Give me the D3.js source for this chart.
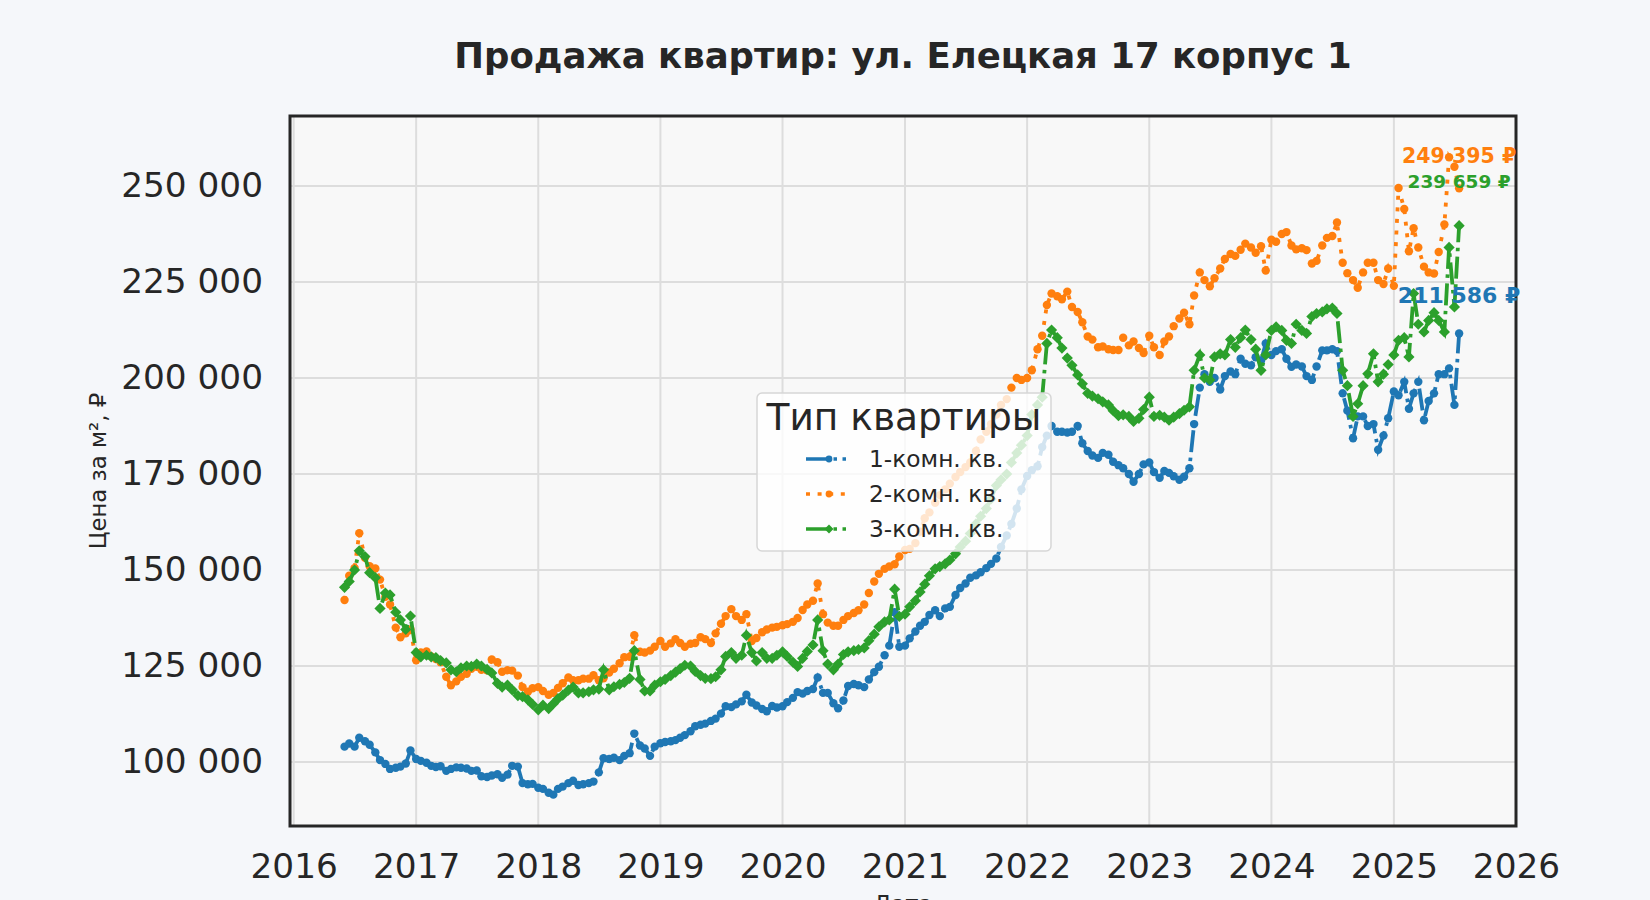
<!DOCTYPE html>
<html lang="ru">
	<head>
		<meta charset="utf-8">
		<title>Продажа квартир: ул. Елецкая 17 корпус 1</title>
		<script type="text/javascript" src="https://d3js.org/d3.v7.min.js"></script>
		<style type="text/css">
			body { margin: 0; background: #f5f7fa; }
			svg { display: block; font-family: "DejaVu Sans", sans-serif; }
		</style>
	</head>
	<body>
		<script type="text/javascript">

			// Price per m2, one value every half month (1st and 15th), from 2016-06-01
			var firstYear = 2016;
			var firstMonth = 5;

			var room1 = [
				104000,104800,104000,106300,105400,104500,102500,100500,99500,98200,98500,98800,99600,103000,100800,100300,
				99800,99000,98700,98900,97700,98200,98600,98500,98300,97700,97800,96300,96100,96500,96800,95900,
				96700,99000,98800,94500,94200,94300,93300,93000,92000,91500,93000,93600,94500,95100,94000,94200,
				94500,94900,97300,101000,100800,101100,100500,101600,102300,107400,104300,103500,101600,104000,104900,105200,
				105400,105700,106300,107000,108000,109300,109700,110000,110700,111300,112600,114500,114300,115000,115800,117500,
				115500,114700,113800,113200,114600,114200,114500,115600,116700,118200,117800,118500,119000,122000,118000,118000,
				115300,114000,116000,119800,120300,120000,119500,121500,123400,124800,127800,130300,139000,130000,130300,132200,
				134000,135500,136500,138300,139500,138000,140000,140400,143500,145300,146500,148000,148600,149400,150500,151600,
				153000,156000,159000,162000,166000,171000,174500,176000,177000,182000,185000,187500,186000,186000,185800,186000,
				187500,183000,181000,179800,179200,180500,180000,178200,177300,176500,175000,173000,175000,177500,178000,175500,
				174000,175800,175300,174400,173500,174300,176500,188000,197500,201000,199000,200000,197000,200500,201700,201000,
				205000,203700,203300,205400,204500,209000,206000,207000,207500,205000,202900,203500,203000,200500,199500,203000,
				207200,207200,207500,207000,196000,191500,184300,190000,190000,187500,188000,181300,185000,189500,196500,195500,
				199000,192000,196000,199000,189000,194000,196000,201000,201000,202500,193000,211586
			];

			var room2 = [
				142200,148500,150500,159600,153200,151000,150400,147500,143000,141000,135000,132500,133500,134500,126500,128500,
				128800,127500,126800,126000,122200,120000,121000,122200,123000,124300,124800,124000,123900,126700,126000,123500,
				123900,123800,122500,119500,118300,119200,119500,118500,117500,118000,119300,120500,122000,121300,121300,121700,
				121700,122600,121300,121800,123300,124300,125700,127300,127400,133000,128700,128500,129000,130000,131500,130000,
				130900,132000,131000,130000,130800,131000,132500,132000,131000,133500,136000,138000,139800,138000,137000,138500,
				131500,132300,133800,134500,135000,135200,135600,135900,136500,137500,139600,141000,142000,146500,138500,136300,
				135500,135500,137000,138000,138800,139500,141000,144000,147000,149000,150300,150900,151500,153500,155200,155500,
				157000,160000,163500,165000,167500,169500,171000,172500,174200,175500,176800,178000,181000,184000,186000,188000,
				190500,193000,194500,197500,200000,199500,200000,202000,207500,211000,219000,222000,221300,220500,222500,218500,
				217200,214500,210800,210000,208000,208200,207500,207300,207300,210500,208500,209500,207800,206500,211000,208000,
				206000,209500,210800,213500,215500,217000,214000,221500,227500,225500,223900,226000,228500,231000,232300,231800,
				233400,235000,234000,232600,234300,228000,236000,235500,237500,238000,234500,233500,233800,233300,229800,230500,
				234500,236500,237000,240500,230000,227300,225500,223500,227500,230000,230000,225500,224500,228500,224000,249500,
				244000,233000,239000,234000,229000,227500,227200,232800,240000,257500,255000,249395
			];

			var room3 = [
				145500,147000,150000,155000,153500,149300,148000,140000,144000,143500,139000,137000,134500,138000,128500,127400,
				127800,127400,127200,126400,125800,124000,123500,124500,125000,124900,125500,125000,124100,123200,120500,119500,
				120000,118800,117300,117000,116200,115000,113600,114800,113900,115200,116500,117400,118700,119500,118000,118000,
				118300,118800,119000,124000,118800,119600,120200,120700,121800,129000,121500,118500,118500,120000,120900,121500,
				122500,123400,124300,125200,125000,123600,122500,121800,121700,122200,124000,127500,128500,127000,127800,133000,
				128500,126300,128500,127000,127000,127800,128700,127500,126000,124900,127000,128800,130500,137000,129000,125500,
				124000,125500,128000,128700,129000,129300,129700,131600,133300,135200,136500,137000,145000,137900,138500,140400,
				142000,144300,146300,148500,150300,150900,151600,152600,154200,156000,157500,159500,162000,164000,166000,168500,
				172000,173500,175000,178000,180500,182500,185000,190500,193000,195000,209000,212500,210500,207800,205200,203300,
				200800,198500,196000,195300,194600,193800,193000,191500,190200,190400,190000,188700,189500,191800,195000,190000,
				190300,189800,189000,189800,190700,191600,192500,202000,206000,200000,199500,205500,206300,206000,210000,208000,
				210500,212500,210000,207500,202000,206000,212400,213300,212400,209800,209000,214000,212400,211600,216000,216800,
				217200,218000,218200,216800,202000,198000,190000,193300,198000,201100,206300,199000,201000,203500,206000,209800,
				210500,205500,222000,214000,212000,215000,217000,215000,212000,234000,218500,239659
			];

			var seriesNames = ["1-комн. кв.", "2-комн. кв.", "3-комн. кв."];
			var seriesColors = ["#1f77b4", "#ff7f0e", "#2ca02c"];
			var yearTicks = [2016, 2017, 2018, 2019, 2020, 2021, 2022, 2023, 2024, 2025, 2026];
			var priceTicks = [100000, 125000, 150000, 175000, 200000, 225000, 250000];

			//Width and height
			var w = 1650;
			var h = 900;
			var margin = { top: 116, right: 134, bottom: 74, left: 290 };

			var dates = room1.map(function(d, i) {
				return new Date(firstYear, firstMonth + Math.floor(i / 2), i % 2 ? 15 : 1);
			});

			var series = [room1, room2, room3].map(function(values, k) {
				return {
					name: seriesNames[k],
					color: seriesColors[k],
					points: values.map(function(v, i) { return { date: dates[i], value: v }; })
				};
			});

			//Scales
			var x = d3.scaleTime()
				.domain([new Date(2015, 11, 21), new Date(2026, 0, 1)])
				.range([margin.left, w - margin.right]);

			var y = d3.scaleLinear()
				.domain([83333, 268231])
				.range([h - margin.bottom, margin.top]);

			var priceFormat = function(v) { return d3.format(",")(v).replace(/,/g, " "); };

			// line style per series: dash pattern, marker
			var dashes = ["22,5.5,3.5,5.5", "4,7.6", "22,5.5,3.5,5.5"];
			var diamond = function(s) { return "M0," + (-s) + "L" + s + ",0L0," + s + "L" + (-s) + ",0Z"; };

			//Create SVG element
			var svg = d3.select("body")
						.append("svg")
						.attr("width", w)
						.attr("height", h);

			svg.append("rect")
				.attr("width", w)
				.attr("height", h)
				.attr("fill", "#f5f7fa");

			svg.append("rect")
				.attr("x", margin.left)
				.attr("y", margin.top)
				.attr("width", w - margin.left - margin.right)
				.attr("height", h - margin.top - margin.bottom)
				.attr("fill", "#f8f8f8");

			svg.append("clipPath")
				.attr("id", "plot-clip")
				.append("rect")
				.attr("x", margin.left)
				.attr("y", margin.top)
				.attr("width", w - margin.left - margin.right)
				.attr("height", h - margin.top - margin.bottom);

			// grid
			var grid = svg.append("g").attr("stroke", "#dddddd").attr("stroke-width", 2);
			grid.selectAll("line.vx")
				.data(yearTicks)
				.enter()
				.append("line")
				.attr("x1", function(d) { return x(new Date(d, 0, 1)); })
				.attr("x2", function(d) { return x(new Date(d, 0, 1)); })
				.attr("y1", margin.top)
				.attr("y2", h - margin.bottom);
			grid.selectAll("line.hy")
				.data(priceTicks)
				.enter()
				.append("line")
				.attr("x1", margin.left)
				.attr("x2", w - margin.right)
				.attr("y1", function(d) { return y(d); })
				.attr("y2", function(d) { return y(d); });

			// axes
			var yAxis = svg.append("g")
				.attr("transform", "translate(" + margin.left + ",0)")
				.call(d3.axisLeft(y).tickValues(priceTicks).tickSize(0).tickPadding(27).tickFormat(priceFormat));
			var xAxis = svg.append("g")
				.attr("transform", "translate(0," + (h - margin.bottom) + ")")
				.call(d3.axisBottom(x)
					.tickValues(yearTicks.map(function(d) { return new Date(d, 0, 1); }))
					.tickSize(0).tickPadding(28)
					.tickFormat(d3.timeFormat("%Y")));
			[yAxis, xAxis].forEach(function(a) {
				a.select(".domain").remove();
				a.selectAll("text")
					.attr("fill", "#262626")
					.style("font-family", "DejaVu Sans")
					.style("font-size", "34.3px");
			});

			// lines with markers
			var line = d3.line()
				.x(function(d) { return x(d.date); })
				.y(function(d) { return y(d.value); });

			var plot = svg.append("g").attr("clip-path", "url(#plot-clip)");

			series.forEach(function(s, k) {
				var g = plot.append("g");
				g.append("path")
					.datum(s.points)
					.attr("d", line)
					.attr("fill", "none")
					.attr("stroke", s.color)
					.attr("stroke-width", 3.8)
					.attr("stroke-dasharray", dashes[k]);
				if (k === 2) {
					g.selectAll("path.m")
						.data(s.points)
						.enter()
						.append("path")
						.attr("d", diamond(5.6))
						.attr("transform", function(d) { return "translate(" + x(d.date) + "," + y(d.value) + ")"; })
						.attr("fill", s.color);
				} else {
					g.selectAll("circle")
						.data(s.points)
						.enter()
						.append("circle")
						.attr("cx", function(d) { return x(d.date); })
						.attr("cy", function(d) { return y(d.value); })
						.attr("r", 4.2)
						.attr("fill", s.color);
				}
			});

			// frame
			svg.append("rect")
				.attr("x", margin.left)
				.attr("y", margin.top)
				.attr("width", w - margin.left - margin.right)
				.attr("height", h - margin.top - margin.bottom)
				.attr("fill", "none")
				.attr("stroke", "#262626")
				.attr("stroke-width", 3);

			// last value labels
			var labelShift = [-31, -25, -38];
			var labelSize = [22, 20.5, 18.5];
			series.forEach(function(s, k) {
				var last = s.points[s.points.length - 1];
				svg.append("text")
					.attr("x", x(last.date))
					.attr("y", y(last.value) + labelShift[k])
					.attr("text-anchor", "middle")
					.attr("fill", s.color)
					.attr("font-weight", "bold")
					.style("font-size", labelSize[k] + "px")
					.text(priceFormat(last.value) + " ₽");
			});

			// legend
			var legend = svg.append("g").attr("transform", "translate(757,393)");
			legend.append("rect")
				.attr("width", 294)
				.attr("height", 158)
				.attr("rx", 5)
				.attr("fill", "#ffffff")
				.attr("fill-opacity", 0.8)
				.attr("stroke", "#d6d6d6")
				.attr("stroke-width", 1.5);
			legend.append("text")
				.attr("x", 147)
				.attr("y", 37)
				.attr("text-anchor", "middle")
				.attr("fill", "#262626")
				.style("font-size", "37.5px")
				.text("Тип квартиры");
			series.forEach(function(s, k) {
				var row = legend.append("g").attr("transform", "translate(0," + (66 + k * 35) + ")");
				row.append("line")
					.attr("x1", 49)
					.attr("x2", 89)
					.attr("stroke", s.color)
					.attr("stroke-width", 3.6)
					.attr("stroke-dasharray", dashes[k]);
				if (k === 2) {
					row.append("path").attr("d", diamond(4.5)).attr("transform", "translate(72,0)").attr("fill", s.color);
				} else {
					row.append("circle").attr("cx", 72).attr("r", 3.4).attr("fill", s.color);
				}
				row.append("text")
					.attr("x", 112)
					.attr("y", 8)
					.attr("fill", "#262626")
					.style("font-size", "23.3px")
					.text(s.name);
			});

			// titles
			svg.append("text")
				.attr("x", (margin.left + w - margin.right) / 2)
				.attr("y", 68)
				.attr("text-anchor", "middle")
				.attr("fill", "#262626")
				.attr("font-weight", "bold")
				.style("font-size", "35.5px")
				.text("Продажа квартир: ул. Елецкая 17 корпус 1");

			svg.append("text")
				.attr("transform", "translate(106," + ((margin.top + h - margin.bottom) / 2) + ") rotate(-90)")
				.attr("text-anchor", "middle")
				.attr("fill", "#262626")
				.style("font-size", "22.8px")
				.text("Цена за м², ₽");

			svg.append("text")
				.attr("x", (margin.left + w - margin.right) / 2)
				.attr("y", 912)
				.attr("text-anchor", "middle")
				.attr("fill", "#262626")
				.style("font-size", "22.8px")
				.text("Дата");

		</script>
	</body>
</html>
